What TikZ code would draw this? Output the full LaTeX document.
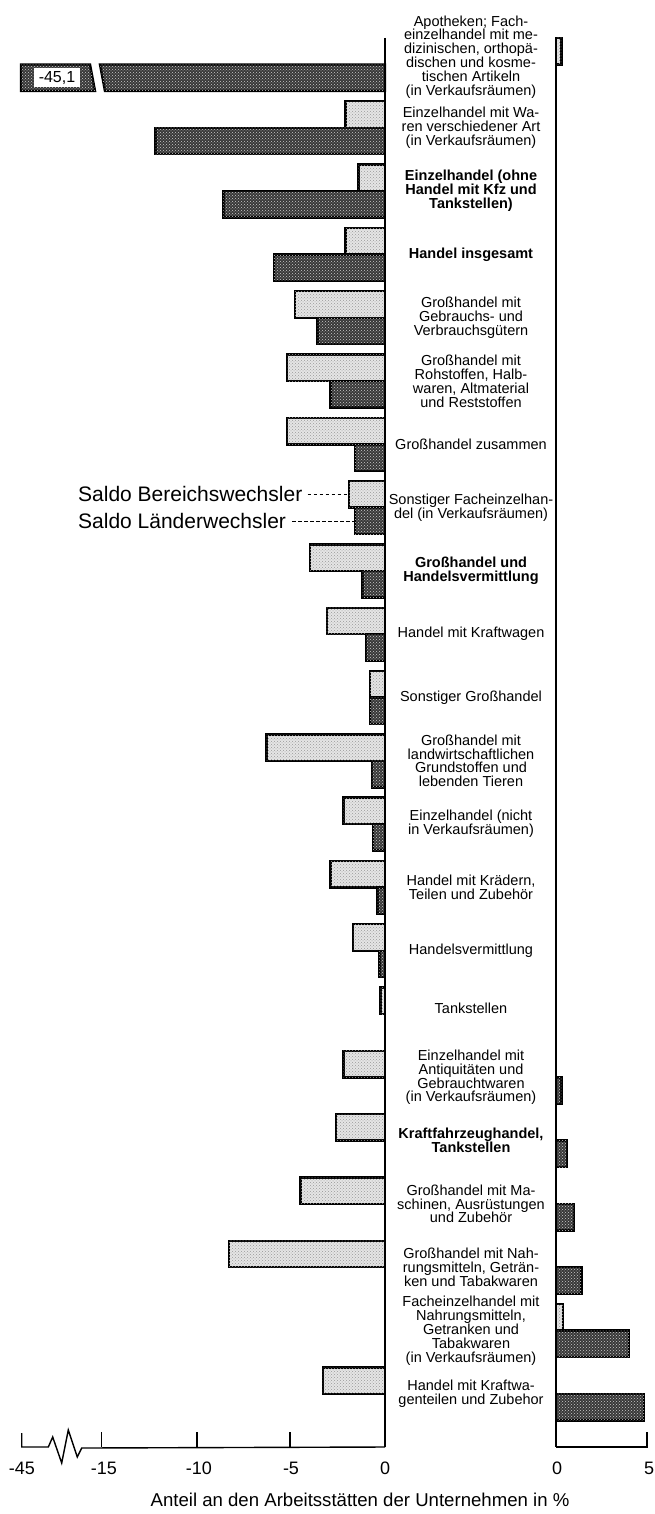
\documentclass[tikz,border=0pt]{standalone}
\usepackage{fontspec}
\usetikzlibrary{patterns}
\setmainfont{Liberation Sans}
\newcommand\ymid[1]{64.5+(#1-1)*63.3}
\begin{document}
\begin{tikzpicture}[x=1pt,y=-1pt,
  lightbar/.style={draw=black, line width=2.4pt, fill=black!10,
    postaction={pattern=crosshatch dots, pattern color=black!40}},
  darkbar/.style={draw=black, line width=2.4pt, fill=black!78,
    postaction={pattern=crosshatch dots, pattern color=black!20}},
  lab/.style={font=\fontsize{14.5}{13.9}\selectfont, align=center, inner sep=0pt},
  blab/.style={font=\fontsize{14.5}{13.9}\selectfont\bfseries, align=center, inner sep=0pt},
  ticklab/.style={font=\fontsize{18}{20}\selectfont, inner sep=0pt},
  axisline/.style={line width=1.4pt},
  legtext/.style={font=\fontsize{21}{24}\selectfont, inner sep=0pt, anchor=west},
  legline/.style={line width=0.9pt, dash pattern=on 3.5pt off 2.5pt}]
\useasboundingbox (0,0) rectangle (654,1514);

% bars: index / Bereichswechsler (light) / Laenderwechsler (dark)
\foreach \i/\a/\b in {1/0.3/0, 2/-2.1/-12.2, 3/-1.4/-8.6, 4/-2.1/-5.9, 5/-4.8/-3.6,
  6/-5.2/-2.9, 7/-5.2/-1.6, 8/-1.9/-1.6, 9/-4.0/-1.2, 10/-3.1/-1.0, 11/-0.8/-0.8,
  12/-6.3/-0.7, 13/-2.2/-0.65, 14/-2.9/-0.4, 15/-1.7/-0.3, 16/-0.25/0, 17/-2.2/0.3,
  18/-2.6/0.6, 19/-4.5/1.0, 20/-8.3/1.4, 21/0.4/4.0, 22/-3.3/4.85}{
  \pgfmathsetmacro\yt{38+(\i-1)*63.3}
  \pgfmathsetmacro\ym{\yt+26.5}
  \pgfmathsetmacro\yb{\yt+53}
  \ifdim \a pt<0pt \draw[lightbar] ({385+(\a)*18.8},\yt) rectangle (385,\ym); \fi
  \ifdim \a pt>0pt \draw[lightbar] (556,\yt) rectangle ({556+(\a)*18.2},\ym); \fi
  \ifdim \b pt<0pt \draw[darkbar] ({385+(\b)*18.8},\ym) rectangle (385,\yb); \fi
  \ifdim \b pt>0pt \draw[darkbar] (556,\ym) rectangle ({556+(\b)*18.2},\yb); \fi
}

% broken bar -45,1
\draw[darkbar] (21,64.5) -- (90,64.5) -- (95,91) -- (21,91) -- cycle;
\draw[darkbar] (100,64.5) -- (385,64.5) -- (385,91) -- (105,91) -- cycle;
\node[font=\fontsize{16}{18}\selectfont, fill=white, inner sep=0pt,
  minimum width=46pt, minimum height=19pt] (big) at (57,77.7) {-45,1};

% axes
\draw[axisline] (385,38) -- (385,1447);
\draw[axisline] (556,38) -- (556,1447);
\draw[axisline] (21.7,1433) -- (21.7,1447) -- (48.3,1447) -- (52.7,1437) -- (61.7,1463)
  -- (68.3,1430) -- (77.3,1457) -- (81.7,1448) -- (385,1447);
\foreach \x in {101.7,197,290} \draw[axisline] (\x,1432) -- (\x,1447);
\draw[axisline] (556,1447) -- (647,1447) -- (647,1432);

\node[ticklab] (t45) at (22,1468) {-45};
\node[ticklab] (t15) at (104,1468) {-15};
\node[ticklab] (t10) at (199,1468) {-10};
\node[ticklab] (t5) at (291,1468) {-5};
\node[ticklab] (t0) at (385,1468) {0};
\node[ticklab] (r0) at (557,1468) {0};
\node[ticklab] (r5) at (649,1468) {5};
\node[font=\fontsize{18.6}{20}\selectfont, inner sep=0pt] (title) at (360,1500)
  {Anteil an den Arbeitsstätten der Unternehmen in \%};

% category labels
\node[lab] (c1) at (471,57) {Apotheken; Fach-\\einzelhandel mit me-\\dizinischen, orthopä-\\dischen und kosme-\\tischen Artikeln\\(in Verkaufsräumen)};
\node[lab] (c2) at (471,{\ymid{2}}) {Einzelhandel mit Wa-\\ren verschiedener Art\\(in Verkaufsräumen)};
\node[blab] (c3) at (471,{\ymid{3}}) {Einzelhandel (ohne\\Handel mit Kfz und\\Tankstellen)};
\node[blab] (c4) at (471,{\ymid{4}}) {Handel insgesamt};
\node[lab] (c5) at (471,{\ymid{5}}) {Großhandel mit\\Gebrauchs- und\\Verbrauchsgütern};
\node[lab] (c6) at (471,{\ymid{6}}) {Großhandel mit\\Rohstoffen, Halb-\\waren, Altmaterial\\und Reststoffen};
\node[lab] (c7) at (471,{\ymid{7}}) {Großhandel zusammen};
\node[lab] (c8) at (471,{\ymid{8}}) {Sonstiger Facheinzelhan-\\del (in Verkaufsräumen)};
\node[blab] (c9) at (471,{\ymid{9}}) {Großhandel und\\Handelsvermittlung};
\node[lab] (c10) at (471,{\ymid{10}}) {Handel mit Kraftwagen};
\node[lab] (c11) at (471,{\ymid{11}}) {Sonstiger Großhandel};
\node[lab] (c12) at (471,{\ymid{12}}) {Großhandel mit\\landwirtschaftlichen\\Grundstoffen und\\lebenden Tieren};
\node[lab] (c13) at (471,{\ymid{13}}) {Einzelhandel (nicht\\in Verkaufsräumen)};
\node[lab] (c14) at (471,{\ymid{14}}) {Handel mit Krädern,\\Teilen und Zubehör};
\node[lab] (c15) at (471,{\ymid{15}}) {Handelsvermittlung};
\node[lab] (c16) at (471,1008) {Tankstellen};
\node[lab] (c17) at (471,{\ymid{17}}) {Einzelhandel mit\\Antiquitäten und\\Gebrauchtwaren\\(in Verkaufsräumen)};
\node[blab] (c18) at (471,{\ymid{18}}) {Kraftfahrzeughandel,\\Tankstellen};
\node[lab] (c19) at (471,{\ymid{19}}) {Großhandel mit Ma-\\schinen, Ausrüstungen\\und Zubehör};
\node[lab] (c20) at (471,{\ymid{20}}) {Großhandel mit Nah-\\rungsmitteln, Geträn-\\ken und Tabakwaren};
\node[lab] (c21) at (471,{\ymid{21}}) {Facheinzelhandel mit\\Nahrungsmitteln,\\Getranken und\\Tabakwaren\\(in Verkaufsräumen)};
\node[lab] (c22) at (471,{\ymid{22}}) {Handel mit Kraftwa-\\genteilen und Zubehor};

% legend
\node[legtext] (legB) at (78,494) {Saldo Bereichswechsler};
\node[legtext] (legL) at (78,521) {Saldo Länderwechsler};
\coordinate (barB) at (349,494);
\coordinate (barL) at (355,521);
\draw[legline] ([xshift=5pt]legB.east) -- (barB);
\draw[legline] ([xshift=6pt]legL.east) -- (barL);
\end{tikzpicture}
\end{document}
